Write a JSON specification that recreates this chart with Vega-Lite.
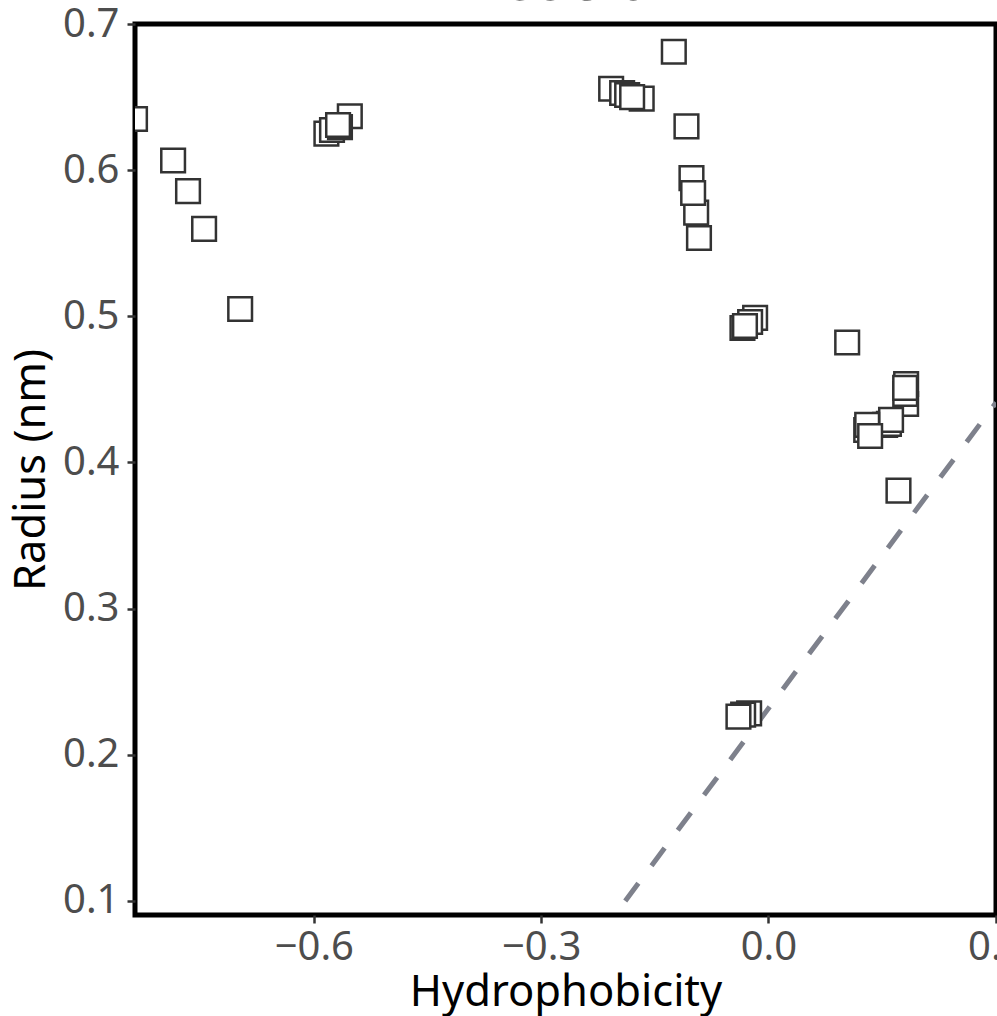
{
  "$schema": "https://vega.github.io/schema/vega-lite/v6.json",
  "autosize": {"type": "none"},
  "width": 861,
  "height": 891,
  "padding": {"left": 135, "top": 24, "right": 1, "bottom": 101},
  "background": "white",
  "title": {"text": "Precision", "fontSize": 56, "font": "Noto Sans", "fontWeight": "normal", "color": "black", "anchor": "middle", "baseline": "alphabetic", "offset": -52},
  "config": {
    "view": {"stroke": "black", "strokeWidth": 5},
    "axis": {
      "domain": false, "grid": false,
      "tickSize": 8, "tickWidth": 2.5, "tickColor": "#333333",
      "labelFont": "Noto Sans", "labelFontSize": 40, "labelColor": "#4d4d4d",
      "labelFlush": false, "labelOverlap": false,
      "titleFont": "Noto Sans", "titleFontSize": 43.5, "titleFontWeight": "normal", "titleColor": "black"
    }
  },
  "datasets": {
    "pts": [
      {"h": -0.836, "r": 0.635},
      {"h": -0.7857, "r": 0.6066},
      {"h": -0.766, "r": 0.5857},
      {"h": -0.7448, "r": 0.5598},
      {"h": -0.6972, "r": 0.505},
      {"h": -0.5525, "r": 0.6369},
      {"h": -0.5834, "r": 0.625},
      {"h": -0.576, "r": 0.6275},
      {"h": -0.5655, "r": 0.6295},
      {"h": -0.568, "r": 0.6309},
      {"h": -0.1249, "r": 0.681},
      {"h": -0.2076, "r": 0.6557},
      {"h": -0.1931, "r": 0.6528},
      {"h": -0.1673, "r": 0.6489},
      {"h": -0.1865, "r": 0.6514},
      {"h": -0.1799, "r": 0.65},
      {"h": -0.1082, "r": 0.63},
      {"h": -0.1016, "r": 0.5946},
      {"h": -0.0954, "r": 0.571},
      {"h": -0.0994, "r": 0.5844},
      {"h": -0.0917, "r": 0.5536},
      {"h": -0.0176, "r": 0.4989},
      {"h": -0.0242, "r": 0.4961},
      {"h": -0.0343, "r": 0.492},
      {"h": -0.031, "r": 0.4934},
      {"h": 0.1039, "r": 0.4821},
      {"h": 0.1817, "r": 0.44},
      {"h": 0.1805, "r": 0.4469},
      {"h": 0.1817, "r": 0.4537},
      {"h": 0.1804, "r": 0.451},
      {"h": 0.154, "r": 0.4257},
      {"h": 0.159, "r": 0.4264},
      {"h": 0.1618, "r": 0.4291},
      {"h": 0.129, "r": 0.4222},
      {"h": 0.1303, "r": 0.4257},
      {"h": 0.1342, "r": 0.4181},
      {"h": 0.1716, "r": 0.3807},
      {"h": -0.0255, "r": 0.2284},
      {"h": -0.0334, "r": 0.2275},
      {"h": -0.0396, "r": 0.2261}
    ],
    "fit": [
      {"h": -0.189, "r": 0.1},
      {"h": 0.3003, "r": 0.441}
    ]
  },
  "layer": [
    {
      "data": {"name": "fit"},
      "mark": {"type": "line", "clip": true, "color": "#7e818c", "strokeWidth": 5, "strokeDash": [22, 22], "strokeCap": "butt"},
      "encoding": {
        "x": {"field": "h", "type": "quantitative"},
        "y": {"field": "r", "type": "quantitative"}
      }
    },
    {
      "data": {"name": "pts"},
      "mark": {"type": "point", "shape": "square", "size": 560, "filled": false, "fill": "white", "fillOpacity": 1, "stroke": "#333333", "strokeWidth": 2.5, "opacity": 1, "clip": true},
      "encoding": {
        "x": {"field": "h", "type": "quantitative", "title": "Hydrophobicity",
              "scale": {"domain": [-0.836, 0.3003], "nice": false, "zero": false},
              "axis": {"values": [-0.6, -0.3, 0, 0.3], "format": ".1f", "labelPadding": 4, "titleY": 90, "titleBaseline": "alphabetic"}},
        "y": {"field": "r", "type": "quantitative", "title": "Radius (nm)",
              "scale": {"domain": [0.0904, 0.7], "nice": false, "zero": false},
              "axis": {"values": [0.1, 0.2, 0.3, 0.4, 0.5, 0.6, 0.7], "format": ".1f", "labelPadding": 8, "titleX": -91, "titleBaseline": "alphabetic"}}
      }
    }
  ]
}
